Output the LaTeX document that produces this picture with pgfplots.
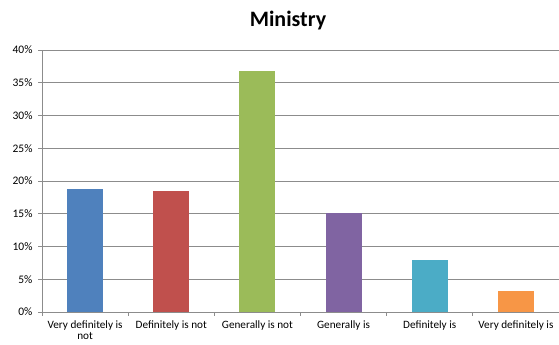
\documentclass[border=0pt]{standalone}
\usepackage{pgfplots}
\pgfplotsset{compat=1.18}
\usepackage{fontspec}
\setmainfont{Carlito}

\definecolor{barblue}{HTML}{4F81BD}
\definecolor{barred}{HTML}{C0504D}
\definecolor{bargreen}{HTML}{9BBB59}
\definecolor{barpurple}{HTML}{8064A2}
\definecolor{barcyan}{HTML}{4BACC6}
\definecolor{barorange}{HTML}{F79646}
\definecolor{gridgray}{HTML}{8C8C8C}

\begin{document}
\begin{tikzpicture}[x=1pt,y=1pt]
\useasboundingbox (0,0) rectangle (559,345);
\node[font=\fontsize{22}{24}\selectfont\bfseries] at (288,324) {Ministry};
\begin{axis}[
  at={(42pt,33pt)}, anchor=south west,
  scale only axis, width=517pt, height=262pt,
  xmin=-0.5, xmax=5.5, ymin=0, ymax=40,
  axis lines*=left,
  axis line style={gridgray, line width=0.9pt},
  ytick={0,5,...,40},
  yticklabel={\pgfmathprintnumber{\tick}\%},
  /pgf/number format/assume math mode=true,
  ymajorgrids, grid style={gridgray, line width=0.9pt},
  xtick={0,...,5},
  xticklabels={{Very definitely is\\not},{Definitely is not},{Generally is not},{Generally is},{Definitely is},{Very definitely is}},
  xticklabel style={align=center, font=\fontsize{11.2}{11.5}\selectfont, yshift=-1pt},
  yticklabel style={font=\fontsize{11.5}{12}\selectfont, xshift=-2pt},
  minor xtick={-0.5,0.5,...,5.5},
  tick style={gridgray, line width=0.9pt},
  major x tick style={draw=none},
  tick align=outside,
  major tick length=4pt, minor tick length=4pt,
  ybar, bar width=36pt, bar shift=0pt,
  clip=false,
]
\addplot[fill=barblue, draw=none] coordinates {(0,18.8)};
\addplot[fill=barred, draw=none] coordinates {(1,18.5)};
\addplot[fill=bargreen, draw=none] coordinates {(2,36.8)};
\addplot[fill=barpurple, draw=none] coordinates {(3,15.1)};
\addplot[fill=barcyan, draw=none] coordinates {(4,7.9)};
\addplot[fill=barorange, draw=none] coordinates {(5,3.2)};
\end{axis}
\end{tikzpicture}
\end{document}
